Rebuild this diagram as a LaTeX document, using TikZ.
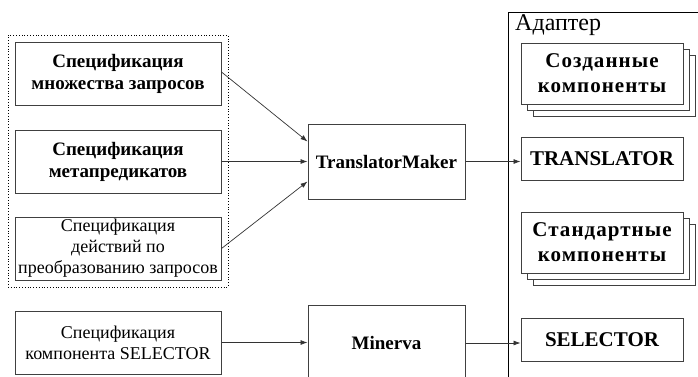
\documentclass[tikz,border=0pt]{standalone}
\usepackage{fontspec}
\setmainfont{Liberation Serif}
\usepackage{tikz}
\usetikzlibrary{positioning, arrows.meta, calc, fit, shadows}
\definecolor{edge}{HTML}{333333}
\definecolor{frame}{HTML}{404040}
\newcommand{\bfont}{\fontsize{19}{22}\selectfont\bfseries}
\newcommand{\capfont}{\fontsize{21}{24}\selectfont\bfseries}
\newcommand{\wfont}{\fontsize{21}{25}\selectfont\bfseries\addfontfeature{LetterSpace=5}}
\newcommand{\rfont}{\fontsize{18}{21}\selectfont}

\begin{document}
\begin{tikzpicture}[x=1pt, y=-1pt, box/.style={draw=frame, line width=1pt, fill=white, align=center, inner sep=0pt},spec/.style={box, minimum width=206pt, minimum height=63pt},tool/.style={box, minimum width=157pt, minimum height=75pt, font=\bfont},part/.style={box, minimum width=162pt, minimum height=43pt, font=\capfont},stack/.style={box, minimum width=162pt, minimum height=61pt, font=\wfont, double copy shadow={shadow xshift=6pt, shadow yshift=-6pt, draw=frame, line width=1pt}},arr/.style={-{Latex[length=7pt,width=5pt]}, draw=edge, line width=0.7pt}]
\clip (0,0) rectangle (698,376);
\fill[white] (0,0) rectangle (698,376);
% input specifications
\node[spec, font=\bfont] (sq) at (118,73.5) {Спецификация\\множества запросов};
\node[spec, font=\bfont] (sm) at (118,161.5) {Спецификация\\метапредикатов};
\node[spec, font=\rfont] (sa) at (118,248.5) {Спецификация\\действий по\\преобразованию запросов};
\node[spec, font=\rfont] (ss) at (118,342.5) {Спецификация\\компонента SELECTOR};
\node[draw=black, dotted, line width=0.8pt, inner sep=6.5pt, fit=(sq) (sa)] (grp) {};
% generators
\node[tool] (tm) at (386.5,161.5) {TranslatorMaker};
\node[tool, minimum height=76pt] (mv) at (386.5,343) {Minerva};
% adapter
\draw[line width=1pt] (698,12) -- (508,12) -- (508,380);
\node[anchor=base west, inner sep=0pt, font=\fontsize{24}{27}\selectfont] (ad) at (515,30) {Адаптер};
\node[stack] (cc) at (602,73.5) {Созданные\\компоненты};
\node[part] (tr) at (602,158.5) {TRANSLATOR};
\node[stack] (sc) at (602,242.5) {Стандартные\\компоненты};
\node[part] (sel) at (602,339.5) {SELECTOR};
% connectors
\draw[arr] ([yshift=1.5pt]sq.east) -- ([yshift=20pt]tm.west);
\draw[arr] (sm.east) -- (tm.west);
\draw[arr] (sa.east) -- ([yshift=-20pt]tm.west);
\draw[arr] (tm.east) -- (tm.east -| tr.west);
\draw[arr] (ss.east) -- (ss.east -| mv.west);
\draw[arr] (mv.east) -- (mv.east -| sel.west);
\end{tikzpicture}
\end{document}
